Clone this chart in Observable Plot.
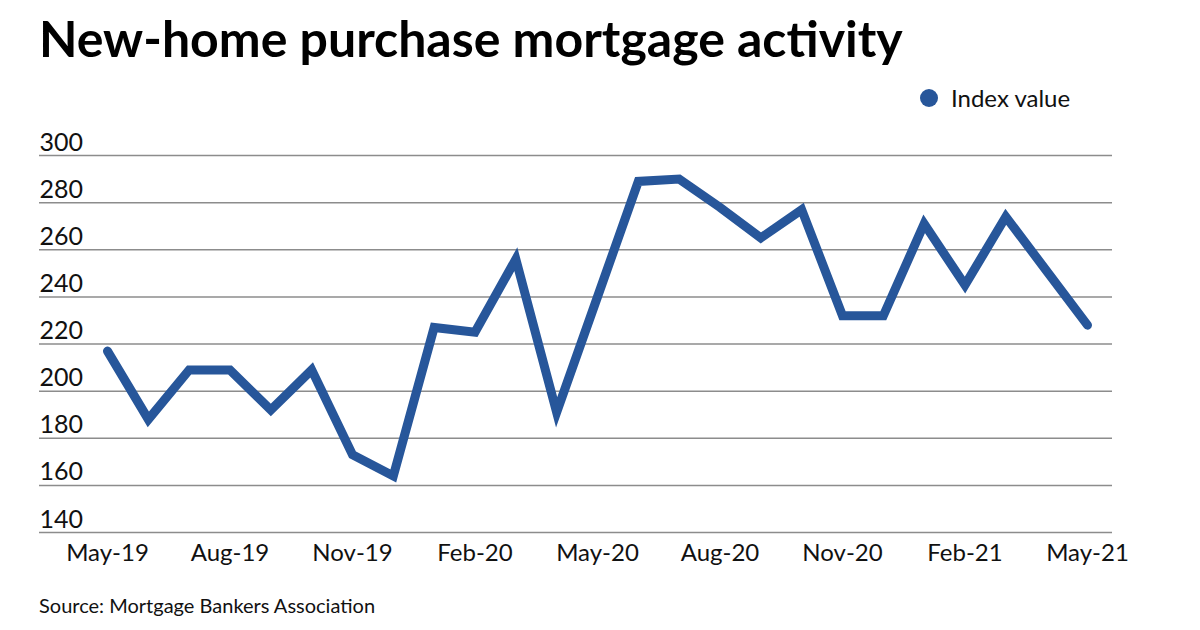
<!DOCTYPE html>
<html>
<head>
<meta charset="utf-8">
<script src="https://cdn.jsdelivr.net/npm/d3@7"></script>
<script src="https://cdn.jsdelivr.net/npm/@observablehq/plot@0.6"></script>
<style>
  html, body { margin: 0; padding: 0; background: #fff; }
  #wrap { position: relative; width: 1200px; height: 630px; overflow: hidden; font-family: Lato, "Noto Sans", sans-serif; color: #111; }
  #title { position: absolute; left: 39px; top: 13px; font-size: 50px; line-height: 1; font-weight: 700; color: #000; white-space: nowrap; }
  #legend { position: absolute; left: 920px; top: 86px; font-size: 24px; line-height: 1; white-space: nowrap; display: flex; align-items: center; }
  #legend .dot { display: inline-block; width: 18px; height: 18px; border-radius: 50%; background: #27569a; margin-right: 13px; }
  #chart { position: absolute; left: 0; top: 120px; }
  #source { position: absolute; left: 39px; top: 595px; font-size: 20px; line-height: 1; white-space: nowrap; color: #111; }
</style>
</head>
<body>
<div id="wrap">
  <div id="title">New-home purchase mortgage activity</div>
  <div id="legend"><span class="dot"></span><span>Index value</span></div>
  <div id="chart"></div>
  <div id="source">Source: Mortgage Bankers Association</div>
</div>
<script>
const months = ["May-19","Jun-19","Jul-19","Aug-19","Sep-19","Oct-19","Nov-19","Dec-19",
  "Jan-20","Feb-20","Mar-20","Apr-20","May-20","Jun-20","Jul-20","Aug-20","Sep-20","Oct-20","Nov-20","Dec-20",
  "Jan-21","Feb-21","Mar-21","Apr-21","May-21"];
const indexValues = [217, 188, 209, 209, 192, 209, 173, 164,
  227, 225, 256, 191, 240, 289, 290, 278, 265, 277, 232, 232,
  271, 245, 274, 251, 228];
const xTickLabels = ["May-19","Aug-19","Nov-19","Feb-20","May-20","Aug-20","Nov-20","Feb-21","May-21"];
const yTickValues = [140, 160, 180, 200, 220, 240, 260, 280, 300];

const data = months.map((m, i) => ({month: m, value: indexValues[i]}));
const lineColor = "#27569a";

const chart = Plot.plot({
  width: 1200,
  height: 460,
  marginTop: 35,
  marginBottom: 48,
  marginLeft: 39,
  marginRight: 88,
  style: {fontFamily: "Lato, 'Noto Sans', sans-serif", color: "#111", background: "transparent"},
  x: {type: "point", domain: months, padding: 1.139, align: 0.731, round: false, label: null},
  y: {domain: [140, 300], label: null},
  marks: [
    Plot.ruleY(yTickValues, {stroke: "#8c8c8c", strokeWidth: 1.5}),
    Plot.axisY({ticks: yTickValues, tickSize: 0, tickPadding: 0, textAnchor: "start", lineAnchor: "bottom", dy: -5, fontSize: 25, label: null, fill: "#111"}),
    Plot.axisX({ticks: xTickLabels, tickSize: 0, tickPadding: 11, fontSize: 24, label: null, fill: "#111"}),
    Plot.line(data, {x: "month", y: "value", stroke: lineColor, strokeWidth: 9, strokeLinejoin: "miter", strokeLinecap: "round", strokeMiterlimit: 10})
  ]
});
document.getElementById("chart").appendChild(chart);
</script>
</body>
</html>
